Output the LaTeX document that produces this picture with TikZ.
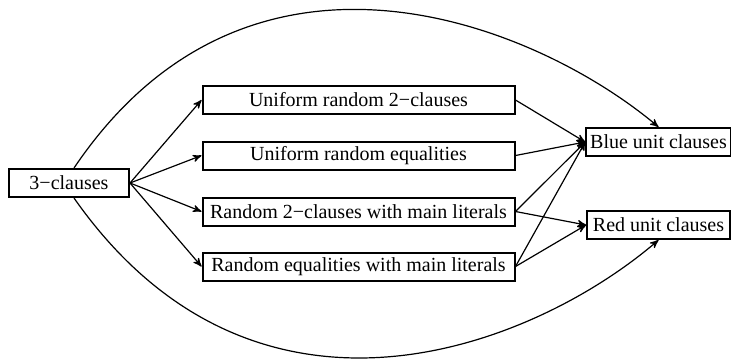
\documentclass[tikz,border=0pt]{standalone}
\usepackage{fontspec}
\setmainfont{Liberation Serif}
\usepackage{tikz}
\usetikzlibrary{arrows}

\begin{document}
\begin{tikzpicture}[x=0.5pt,y=-0.5pt,->,>=stealth',line width=0.6pt,
    box node/.style={rectangle,draw,line width=1pt,inner sep=2pt,minimum height=14pt},
    mid node/.style={box node,minimum width=156pt},
    unit node/.style={box node,minimum width=71.5pt}]
   \useasboundingbox (0,0) rectangle (731,360);
   \begin{scope}
      \node[box node,minimum width=60pt] (c3) at (69,183) {3−clauses};
      \node[mid node] (u2) at (358.5,100) {Uniform random 2−clauses};
      \node[mid node] (ue) at (358.5,155.5) {Uniform random equalities};
      \node[mid node] (m2) at (358.5,211.5) {Random 2−clauses with main literals};
      \node[mid node] (me) at (358.5,266.5) {Random equalities with main literals};
      \node[unit node] (blue) at (658.5,142) {Blue unit clauses};
      \node[unit node] (red) at (658.5,225) {Red unit clauses};
       \path (c3.east) edge (u2.west);
       \path (c3.east) edge (ue.west);
       \path (c3.east) edge (m2.west);
       \path (c3.east) edge (me.west);
       \path (u2.east) edge (blue.west);
       \path (ue.east) edge (blue.west);
       \path (m2.east) edge (blue.west);
       \path (me.east) edge (blue.west);
       \path (m2.east) edge (red.west);
       \path (me.east) edge (red.west);
      %\path (c3) edge [bend left] (blue);
      \draw ([xshift=2.5pt]c3.north) .. controls (250.5,-93.7) and (537.2,24.8) .. (blue.north);
      \draw ([xshift=2.5pt]c3.south) .. controls (255.4,456.9) and (532.2,348.4) .. (red.south);
   \end{scope}
\end{tikzpicture}
\end{document}
